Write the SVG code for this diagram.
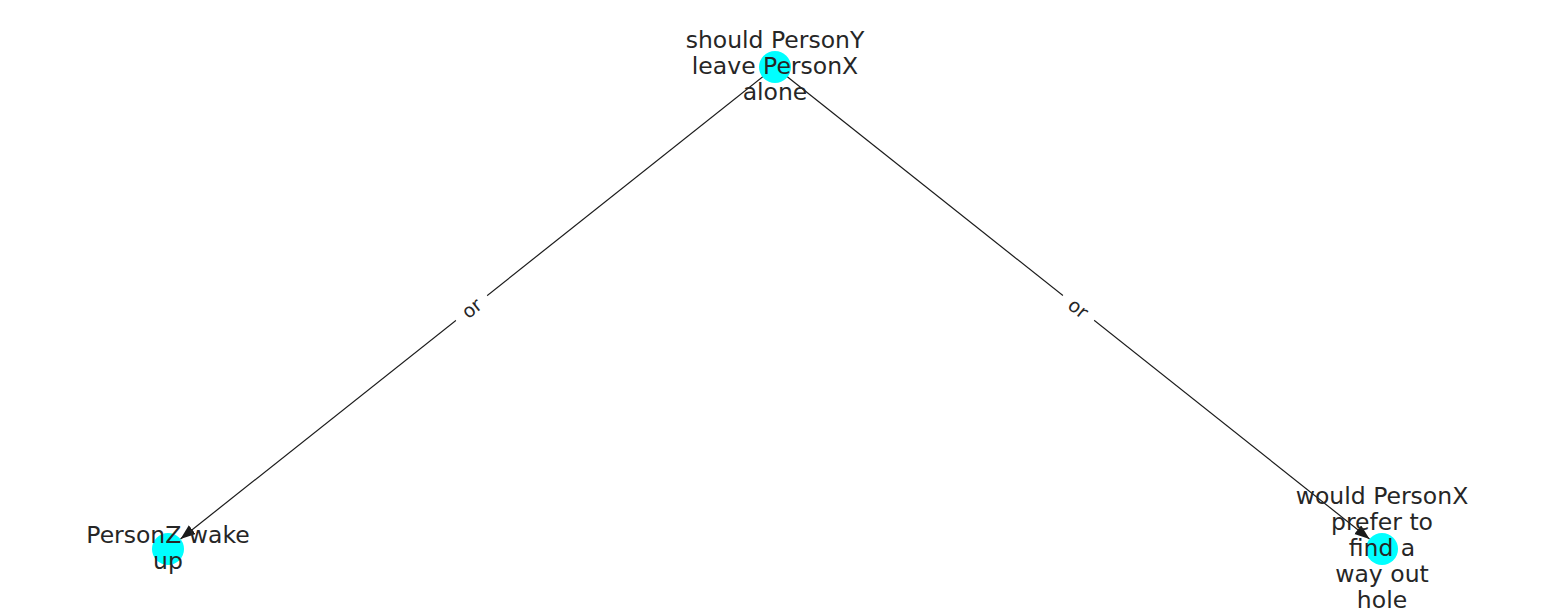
<svg xmlns="http://www.w3.org/2000/svg" width="1550" height="616" viewBox="0 0 1550 616">
<style>
.node{fill:#00ffff;}
.lbl{font-family:"DejaVu Sans",sans-serif;font-size:23.5px;fill:#262626;text-anchor:middle;}
.elbl{font-family:"DejaVu Sans",sans-serif;font-size:19px;fill:#262626;text-anchor:middle;dominant-baseline:central;}
.edge{stroke:#1a1a1a;stroke-width:1.2;fill:none;}
</style>
<defs>
<marker id="arr" markerUnits="userSpaceOnUse" markerWidth="16" markerHeight="12" refX="15" refY="5.5" orient="auto">
<path d="M0,0 L15,5.5 L0,11 z" fill="#1a1a1a"/>
</marker>
</defs>
<rect width="1550" height="616" fill="#ffffff"/>
<g id="edges">
<line class="edge" x1="775" y1="67" x2="180.5" y2="539" marker-end="url(#arr)"/>
<line class="edge" x1="775" y1="67" x2="1369.5" y2="539" marker-end="url(#arr)"/>
<g transform="translate(471.5,308) rotate(-38.45)">
<rect x="-20" y="-12" width="40" height="24" fill="#ffffff"/>
<text class="elbl" x="0" y="0">or</text>
</g>
<g transform="translate(1078.5,308) rotate(38.45)">
<rect x="-20" y="-12" width="40" height="24" fill="#ffffff"/>
<text class="elbl" x="0" y="0">or</text>
</g>
</g>
<g id="n_top">
<circle class="node" cx="775" cy="67" r="16"/>
<text class="lbl" x="775"><tspan x="775" y="48">should PersonY</tspan><tspan x="775" y="74">leave PersonX</tspan><tspan x="775" y="100">alone</tspan></text>
</g>
<g id="n_left">
<circle class="node" cx="168" cy="549" r="16"/>
<text class="lbl" x="168"><tspan x="168" y="543">PersonZ wake</tspan><tspan x="168" y="569">up</tspan></text>
</g>
<g id="n_right">
<circle class="node" cx="1382" cy="549" r="16"/>
<text class="lbl" x="1382"><tspan x="1382" y="504">would PersonX</tspan><tspan x="1382" y="530">prefer to</tspan><tspan x="1382" y="556">find a</tspan><tspan x="1382" y="582">way out</tspan><tspan x="1382" y="608">hole</tspan></text>
</g>
</svg>
